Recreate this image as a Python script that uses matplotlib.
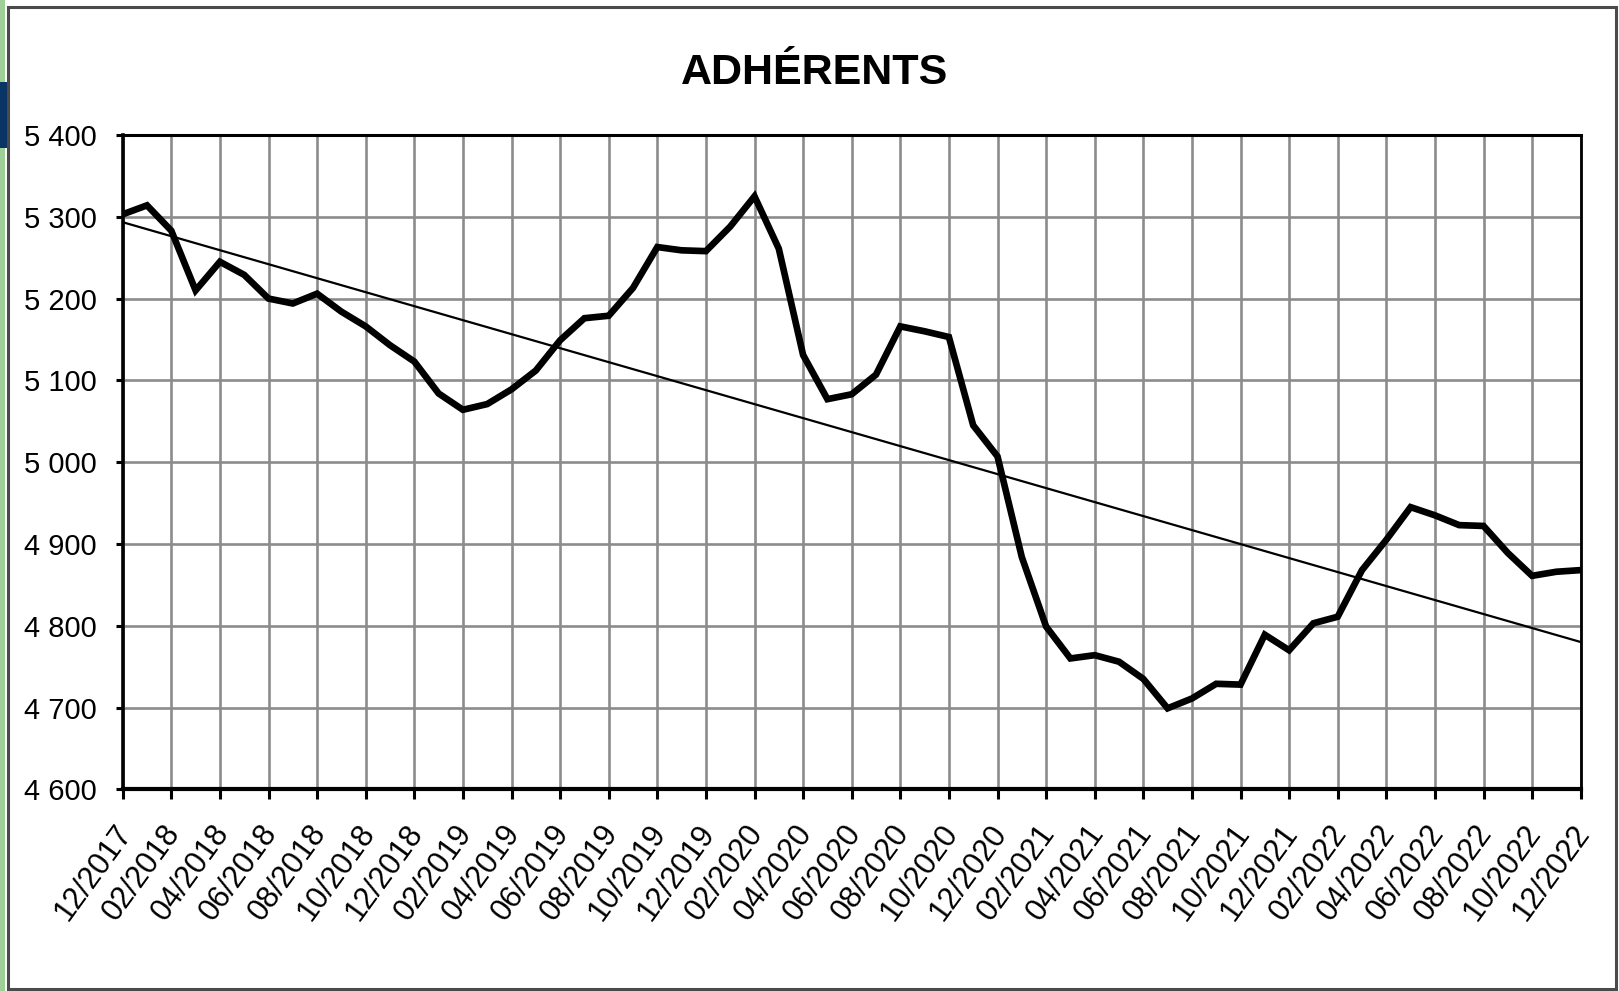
import numpy as np
import matplotlib
matplotlib.use("Agg")
import matplotlib.pyplot as plt
from matplotlib.patches import Rectangle
from matplotlib.transforms import ScaledTranslation
from matplotlib.ticker import FuncFormatter, MultipleLocator

title = "ADHÉRENTS"

# Monthly members, 12/2017 .. 12/2022
adherents = [
    5303, 5314, 5283, 5210, 5245, 5229, 5200, 5194, 5206, 5184,
    5166, 5143, 5123, 5084, 5064, 5071, 5089, 5112, 5149, 5176,
    5179, 5213, 5263, 5259, 5258, 5288, 5325, 5261, 5131, 5077,
    5083, 5107, 5166, 5160, 5153, 5045, 5007, 4884, 4799, 4760,
    4764, 4756, 4735, 4699, 4711, 4729, 4728, 4789, 4770, 4803,
    4811, 4868, 4905, 4945, 4935, 4923, 4922, 4889, 4861, 4866,
    4868,
]

tick_labels = [
    "12/2017", "02/2018", "04/2018", "06/2018", "08/2018", "10/2018",
    "12/2018", "02/2019", "04/2019", "06/2019", "08/2019", "10/2019",
    "12/2019", "02/2020", "04/2020", "06/2020", "08/2020", "10/2020",
    "12/2020", "02/2021", "04/2021", "06/2021", "08/2021", "10/2021",
    "12/2021", "02/2022", "04/2022", "06/2022", "08/2022", "10/2022",
    "12/2022",
]

y_min, y_max, y_step = 4600, 5400, 100

FONT = ["Liberation Sans", "DejaVu Sans"]

W, H = 1619, 991
fig = plt.figure(figsize=(W / 100, H / 100), dpi=100)
fig.patch.set_facecolor("white")

# decorative frame
fig.patches.append(Rectangle((0, 0), 5 / W, 1, transform=fig.transFigure,
                             facecolor="#9dcf96", edgecolor="none", zorder=0))
fig.patches.append(Rectangle((0, 1 - 148 / H), 7 / W, 66 / H, transform=fig.transFigure,
                             facecolor="#0b3466", edgecolor="none", zorder=1))
fig.patches.append(Rectangle((8 / W, 2 / H), (1616 - 8) / W, (984 - 2) / H,
                             transform=fig.transFigure, facecolor="none",
                             edgecolor="#4a4a4a", linewidth=2.2, zorder=2))

ax = fig.add_axes([122.7 / W, 1 - 789.3 / H, 1458 / W, 654.3 / H])

x = np.arange(len(adherents))
y = np.array(adherents, dtype=float)

# linear trend (least squares)
coef = np.polyfit(x, y, 1)
trend = np.polyval(coef, x)

ax.plot(x, y, color="black", linewidth=4.8, solid_joinstyle="miter", zorder=4)
ax.plot(x, trend, color="black", linewidth=1.6, zorder=3)

ax.set_xlim(0, len(adherents) - 1)
ax.set_ylim(y_min, y_max)
ax.yaxis.set_major_locator(MultipleLocator(y_step))
ax.yaxis.set_major_formatter(FuncFormatter(lambda v, p: f"{int(v):,}".replace(",", " ")))
ax.set_xticks(np.arange(0, len(adherents), 2))
ax.set_xticklabels(tick_labels)

ax.grid(True, color="#8c8c8c", linewidth=1.9)
ax.set_axisbelow(True)

for side, lw in (("left", 2.6), ("bottom", 3.0), ("top", 2.2), ("right", 2.0)):
    ax.spines[side].set_linewidth(lw)
    ax.spines[side].set_color("black")

ax.tick_params(axis="y", direction="out", length=5, width=2.2, pad=13.5,
               labelsize=21, colors="black")
ax.tick_params(axis="x", direction="out", length=7.5, width=2.2, pad=14,
               labelsize=22, colors="black")

for lab in ax.get_yticklabels():
    lab.set_fontfamily(FONT)
for lab in ax.get_xticklabels():
    lab.set_fontfamily(FONT)
    lab.set_rotation(54)
    lab.set_ha("right")
    lab.set_va("top")
    lab.set_rotation_mode("anchor")
    lab.set_transform(lab.get_transform() + ScaledTranslation(-9 / 100, 0, fig.dpi_scale_trans))

fig.text(815 / W, 1 - 73 / H, title, ha="center", va="center",
         fontsize=31, fontweight="bold", family=FONT, color="black")

fig.savefig("out.png", dpi=100, facecolor=fig.get_facecolor())
